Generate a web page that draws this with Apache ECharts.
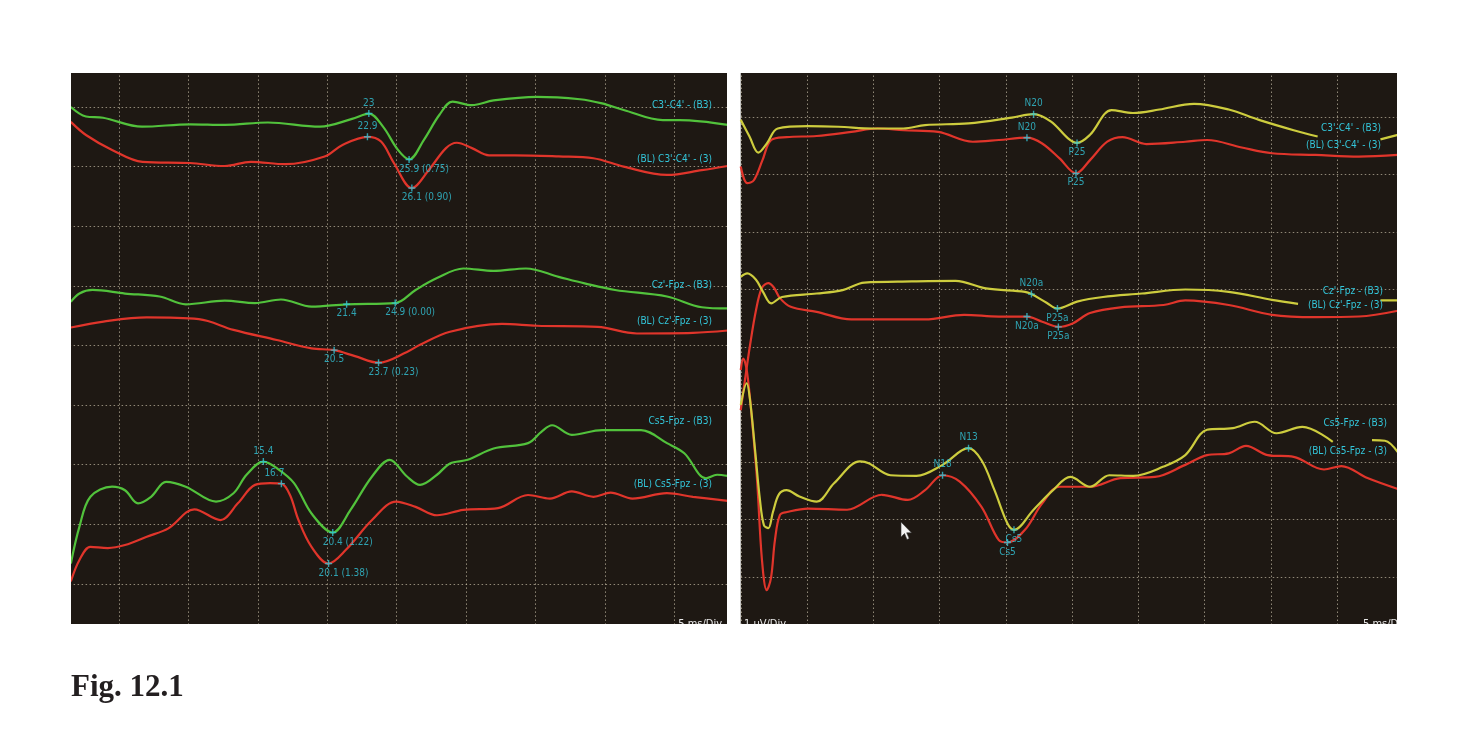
<!DOCTYPE html>
<html><head><meta charset="utf-8">
<script src="https://cdn.jsdelivr.net/npm/echarts@6/dist/echarts.min.js"></script>
<style>html,body{margin:0;padding:0;background:#fff}#c{width:1467px;height:739px}</style>
</head><body><div id="c"></div><script>
// ---------- DATA (x: ms, y: divisions of 1 µV) ----------
// Left panel
const L_C3C4_B3 = [[1.53,9.00],[2.62,8.84],[3.85,8.82],[6.66,8.67],[10.12,8.71],[12.64,8.70],[15.73,8.74],[19.48,8.67],[21.79,8.80],[23.0,8.89],[24.02,8.67],[25.1,8.28],[25.9,8.12],[26.97,8.45],[28.09,8.87],[29.03,9.09],[30.43,9.03],[31.99,9.11],[35.11,9.17],[38.21,9.13],[39.8,9.06],[41.36,8.95],[44.18,8.78],[45.42,8.78],[48.86,8.70]];
const L_C3C4_BL = [[1.53,8.75],[2.62,8.53],[4.5,8.28],[6.69,8.08],[10.12,8.06],[12.62,8.01],[14.5,8.08],[17.0,8.04],[19.81,8.17],[21.07,8.36],[22.9,8.50],[23.88,8.42],[24.81,8.06],[26.1,7.64],[27.31,7.94],[28.56,8.31],[29.34,8.40],[30.43,8.31],[31.66,8.19],[33.53,8.19],[36.68,8.17],[39.18,8.14],[41.36,8.00],[44.48,7.86],[46.99,7.94],[48.86,8.01]];
const L_CZ_B3 = [[1.53,5.73],[2.15,5.87],[3.09,5.93],[5.43,5.87],[7.93,5.82],[9.81,5.69],[12.62,5.75],[14.8,5.71],[16.67,5.77],[18.87,5.65],[21.4,5.69],[24.9,5.71],[26.37,5.93],[27.91,6.13],[29.81,6.29],[31.99,6.25],[34.32,6.29],[36.68,6.15],[38.55,6.04],[40.74,5.93],[44.48,5.82],[46.99,5.64],[48.86,5.62]];
const L_CZ_BL = [[1.53,5.30],[3.88,5.40],[7.0,5.47],[10.75,5.44],[13.25,5.26],[16.37,5.09],[18.87,4.95],[20.5,4.92],[22.0,4.82],[23.7,4.71],[25.75,4.89],[26.69,5.01],[28.85,5.23],[32.59,5.36],[35.11,5.33],[39.49,5.31],[42.31,5.20],[46.35,5.21],[48.86,5.25]];
const L_CS5_B3 = [[1.53,1.34],[2.15,1.96],[2.94,2.46],[4.5,2.63],[5.43,2.57],[6.37,2.35],[7.31,2.46],[8.39,2.71],[9.81,2.63],[11.99,2.38],[13.25,2.52],[14.19,2.83],[15.4,3.05],[16.37,2.94],[17.61,2.69],[18.87,2.18],[20.4,1.86],[21.68,2.24],[23.23,2.80],[24.5,3.08],[25.75,2.80],[26.69,2.66],[27.91,2.83],[28.85,3.02],[30.12,3.08],[31.99,3.27],[34.47,3.36],[35.43,3.55],[36.2,3.66],[37.62,3.50],[39.8,3.58],[42.61,3.58],[44.48,3.36],[45.73,3.19],[47.29,2.77],[48.09,2.83],[48.86,2.81]];
const L_CS5_BL = [[1.53,1.04],[2.15,1.40],[2.94,1.62],[4.19,1.60],[5.43,1.65],[7.0,1.79],[8.56,1.93],[10.43,2.25],[12.31,2.07],[13.56,2.35],[14.8,2.66],[15.88,2.69],[16.7,2.68],[17.32,2.49],[17.93,2.07],[18.87,1.62],[20.1,1.34],[21.35,1.57],[23.23,2.07],[24.96,2.38],[26.37,2.29],[27.91,2.15],[29.81,2.24],[32.31,2.27],[34.47,2.49],[36.05,2.43],[37.62,2.55],[39.18,2.46],[40.42,2.53],[41.99,2.43],[44.48,2.52],[46.35,2.46],[48.86,2.39]];
// Right panel
const R_C3C4_B3 = [[0,8.95],[0.66,8.66],[1.32,8.38],[1.97,8.54],[2.79,8.80],[5.08,8.84],[7.37,8.83],[9.98,8.80],[12.28,8.80],[13.91,8.86],[17.19,8.89],[20.46,8.99],[22.1,9.05],[23.42,8.92],[24.7,8.63],[25.38,8.55],[26.36,8.69],[27.99,9.12],[29.6,9.07],[31.59,9.13],[34.21,9.23],[36.83,9.13],[39.11,8.95],[41.73,8.77],[43.54,8.66],[46,null],[48.28,8.61],[49.59,8.69]];
const R_C3C4_BL = [[0,8.14],[0.49,7.85],[0.99,7.90],[1.64,8.25],[2.30,8.60],[3.45,8.65],[5.73,8.67],[8.35,8.74],[10.31,8.80],[12.28,8.77],[14.89,8.74],[17.51,8.57],[19.48,8.60],[21.6,8.64],[22.75,8.54],[24.06,8.28],[25.3,8.02],[26.36,8.25],[27.66,8.57],[28.81,8.65],[30.61,8.53],[33.55,8.57],[35.19,8.60],[37.81,8.47],[40.09,8.37],[43.37,8.34],[46.65,8.31],[49.59,8.34]];
const R_CZ_B3 = [[0,6.22],[0.49,6.28],[1.15,6.17],[1.68,5.96],[2.30,5.76],[3.11,5.87],[5.73,5.93],[7.69,5.99],[9.33,6.12],[12.92,6.14],[16.21,6.15],[18.5,6.02],[21.45,5.96],[21.94,5.92],[23.08,5.77],[23.9,5.67],[25.38,5.79],[27.34,5.87],[30.28,5.93],[33.55,6.0],[36.83,5.96],[40.09,5.82],[42.06,5.75],[45,null],[48.28,5.81],[49.59,5.81]];
const R_CZ_BL = [[0,3.90],[0.32,4.43],[0.70,5.03],[1.15,5.64],[1.60,6.03],[2.08,6.11],[2.51,6.03],[2.96,5.85],[3.77,5.70],[5.73,5.61],[8.35,5.48],[11.63,5.48],[13.91,5.48],[16.86,5.56],[19.48,5.53],[21.6,5.53],[22.75,5.44],[23.97,5.35],[25.05,5.41],[26.36,5.59],[28.65,5.69],[31.91,5.73],[33.55,5.81],[36.83,5.73],[40.09,5.56],[43.37,5.52],[46.65,5.53],[49.59,5.63]];
const R_CS5_B3 = [[0,3.99],[0.45,4.37],[0.70,4.08],[1.08,3.21],[1.45,2.34],[1.75,1.90],[2.08,1.85],[2.43,2.13],[2.89,2.44],[3.45,2.51],[4.43,2.40],[5.73,2.31],[7.04,2.63],[9.0,3.01],[9.66,2.98],[11.3,2.77],[13.26,2.76],[15.23,2.95],[17.19,3.24],[18.17,3.03],[19.15,2.51],[20.13,1.93],[20.62,1.82],[22.1,2.17],[23.57,2.51],[24.88,2.74],[26.36,2.57],[27.82,2.77],[29.63,2.76],[31.91,2.92],[33.55,3.12],[35.19,3.56],[37.15,3.59],[38.79,3.70],[40.43,3.50],[42.39,3.61],[44.68,3.35],[46,null],[47.64,3.38],[48.62,3.37],[49.59,3.17]];
const R_CS5_BL = [[0,4.60],[0.19,4.80],[0.47,4.57],[0.85,3.73],[1.23,2.69],[1.60,1.30],[1.96,0.77],[2.28,0.98],[2.58,1.64],[2.96,2.08],[3.49,2.13],[5.08,2.19],[8.02,2.17],[10.65,2.43],[12.61,2.34],[13.91,2.51],[15.23,2.77],[16.53,2.66],[18.17,2.22],[19.48,1.64],[20.13,1.60],[21.45,1.82],[22.75,2.28],[24.06,2.57],[26.36,2.57],[28.65,2.72],[31.26,2.74],[33.55,2.95],[35.19,3.12],[36.83,3.15],[38.13,3.28],[39.77,3.12],[41.73,3.09],[44.02,2.87],[45.33,2.93],[47.3,2.72],[49.59,2.53]];
// Peak markers [latency ms, amplitude div, text]
const L_MARKS = [[23,8.89,'23'],[22.9,8.50,'22.9'],[25.9,8.12,'25.9 (0.75)'],[26.1,7.64,'26.1 (0.90)'],[21.4,5.69,'21.4'],[24.9,5.71,'24.9 (0.00)'],[20.5,4.92,'20.5'],[23.7,4.71,'23.7 (0.23)'],[15.4,3.05,'15.4'],[16.7,2.68,'16.7'],[20.4,1.86,'20.4 (1.22)'],[20.1,1.34,'20.1 (1.38)']];
const R_MARKS = [[22.1,9.05,'N20'],[21.6,8.64,'N20'],[25.38,8.55,'P25'],[25.3,8.02,'P25'],[21.94,5.92,'N20a'],[21.6,5.53,'N20a'],[23.9,5.67,'P25a'],[23.97,5.35,'P25a'],[17.19,3.24,'N13'],[15.23,2.77,'N18'],[20.62,1.82,'Cs5'],[20.13,1.60,'Cs5']];
const CHANNELS = ["C3'-C4' - (B3)","(BL) C3'-C4' - (3)","Cz'-Fpz - (B3)","(BL) Cz'-Fpz - (3)","Cs5-Fpz - (B3)","(BL) Cs5-Fpz - (3)"];
const SCALE_TEXT = ['5 ms/Div','1 µV/Div','5 ms/Div'];
const FIG_TITLE = 'Fig. 12.1';

// ---------- STYLE / LAYOUT ----------
const FONT = '"Liberation Sans Narrow","DejaVu Sans Condensed","Liberation Sans",sans-serif';
const GREEN='#52c23c', RED='#e0352b', YELLOW='#cdcc3e', CYAN='#33c6da', BG='#1e1813';
const L_MARK_POS = ['top','top','bl','bl','bottom','bl','bottom','bl','top','topl','bl','bl'];
const R_MARK_POS = ['top','top','bottom','bottom','top','bottom','bottom','bottom','top','top','bottom','bottom'];
const L_CH_Y = [105,159,285,321,421,484], L_CH_X = 712;
const R_CH_Y = [128,145,291,305,423,451], R_CH_X = [1381,1381,1383,1383,1387,1387];

const chart = echarts.init(document.getElementById('c'), null, {renderer:'canvas'});
const split = {show:true, lineStyle:{color:'rgba(215,205,180,0.62)', width:1, type:[1.5,2.5]}};
function xAx(gi,max){return {type:'value',gridIndex:gi,min:0,max:max,interval:5,axisLine:{show:false},axisTick:{show:false},axisLabel:{show:false},splitLine:split};}
function yAx(gi){return {type:'value',gridIndex:gi,min:0,max:10,interval:1,axisLine:{show:false},axisTick:{show:false},axisLabel:{show:false},splitLine:split};}
function line(data,color,gi){return {type:'line',xAxisIndex:gi,yAxisIndex:gi,data:data,showSymbol:false,smooth:0.35,connectNulls:false,lineStyle:{color:color,width:2.2},itemStyle:{color:color},silent:true,z:2};}
function lab(p){
  if(p==='bl') return {position:'bottom',distance:1,align:'left',offset:[-10,0]};
  if(p==='topl') return {position:'top',distance:2,offset:[-7,0]};
  return {position:p,distance:p==='top'?2:1};
}
function marks(arr,pos,gi){
  return {type:'scatter',xAxisIndex:gi,yAxisIndex:gi,silent:true,z:4,
    symbol:'path://M4 0L6 0L6 4L10 4L10 6L6 6L6 10L4 10L4 6L0 6L0 4L4 4Z',symbolSize:7,
    itemStyle:{color:CYAN},
    label:{show:true,formatter:'{b}',color:CYAN,fontFamily:FONT,fontSize:10},
    data:arr.map((m,i)=>({value:[m[0],m[1]],name:m[2],label:lab(pos[i])}))};
}
const g = [];
const mask = (x,y,w,h)=>({type:'rect',shape:{x,y,width:w,height:h},style:{fill:'#fff'},z:100,silent:true});
g.push(mask(0,0,1467,73), mask(0,624,1467,115), mask(0,0,71,739), mask(727,0,12,739), mask(1397,0,70,739));
CHANNELS.forEach((t,i)=>{
  g.push({type:'text',x:L_CH_X,y:L_CH_Y[i],z:50,silent:true,style:{text:t,fill:CYAN,fontFamily:FONT,fontSize:10,align:'right',verticalAlign:'middle'}});
  g.push({type:'text',x:R_CH_X[i],y:R_CH_Y[i],z:50,silent:true,style:{text:t,fill:CYAN,fontFamily:FONT,fontSize:10,align:'right',verticalAlign:'middle'}});
});
g.push({type:'text',x:722,y:618.5,z:50,silent:true,style:{text:SCALE_TEXT[0],fill:'#e8e8e8',fontFamily:FONT,fontSize:11,align:'right',verticalAlign:'top'}});
g.push({type:'text',x:744,y:618.5,z:50,silent:true,style:{text:SCALE_TEXT[1],fill:'#e8e8e8',fontFamily:FONT,fontSize:11,align:'left',verticalAlign:'top'}});
g.push({type:'text',x:1363,y:618.5,z:50,silent:true,style:{text:SCALE_TEXT[2],fill:'#e8e8e8',fontFamily:FONT,fontSize:11,align:'left',verticalAlign:'top'}});
g.push({type:'polygon',z:60,silent:true,shape:{points:[[901,522],[901,537],[904.5,533.5],[907,539.5],[909.2,538.5],[906.7,532.8],[911.5,532.8]]},style:{fill:'#f4f4f4',stroke:'#333',lineWidth:0.6}});
g.push({type:'text',x:71,y:688,z:120,silent:true,style:{text:FIG_TITLE,fill:'#231f20',fontFamily:'"Liberation Serif","Times New Roman",serif',fontWeight:'bold',fontSize:31,align:'left',verticalAlign:'middle'}});

chart.setOption({
  animation:false,
  backgroundColor:'#ffffff',
  grid:[
    {left:49.6,top:47.4,width:680.1,height:596,show:true,backgroundColor:BG,borderWidth:0},
    {left:740.75,top:59.5,width:662.5,height:575,show:true,backgroundColor:BG,borderWidth:0}
  ],
  xAxis:[xAx(0,49),xAx(1,50)],
  yAxis:[yAx(0),yAx(1)],
  series:[
    line(L_C3C4_BL,RED,0), line(L_C3C4_B3,GREEN,0),
    line(L_CZ_BL,RED,0), line(L_CZ_B3,GREEN,0),
    line(L_CS5_BL,RED,0), line(L_CS5_B3,GREEN,0),
    line(R_C3C4_BL,RED,1), line(R_C3C4_B3,YELLOW,1),
    line(R_CZ_BL,RED,1), line(R_CZ_B3,YELLOW,1),
    line(R_CS5_BL,RED,1), line(R_CS5_B3,YELLOW,1),
    marks(L_MARKS,L_MARK_POS,0), marks(R_MARKS,R_MARK_POS,1)
  ],
  graphic:g
});
</script></body></html>
